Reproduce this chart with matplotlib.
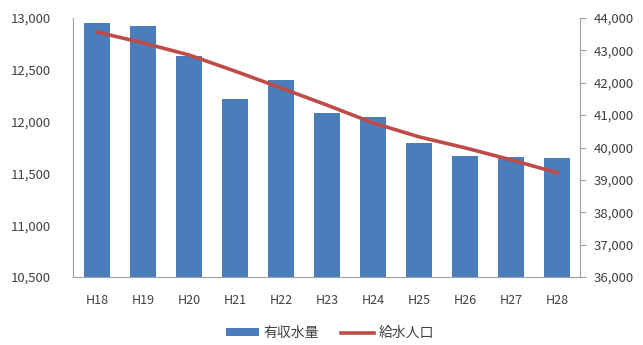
"""
有収水量 / 給水人口 combo chart (bars + line, twin y axes).
"""
import matplotlib
matplotlib.use("Agg")
import matplotlib.pyplot as plt
from matplotlib.ticker import FuncFormatter, MultipleLocator

plt.rcParams["font.family"] = ["Noto Sans CJK JP", "DejaVu Sans"]

YEARS = ["H18", "H19", "H20", "H21", "H22", "H23", "H24", "H25", "H26", "H27", "H28"]
REVENUE_WATER = [12950, 12920, 12630, 12220, 12400, 12085, 12045, 11795, 11665, 11660, 11645]
POPULATION = [43570, 43230, 42860, 42360, 41840, 41310, 40760, 40330, 39990, 39620, 39220]

BAR_COLOR = "#4a7ebb"
LINE_COLOR = "#be4b48"
TEXT_COLOR = "#404040"
AXIS_COLOR = "#a0a0a0"

fig = plt.figure(figsize=(6.43, 3.45), dpi=100)
ax = fig.add_axes([73 / 643, 1 - 277 / 345, (580 - 73) / 643, (277 - 18) / 345])
ax2 = ax.twinx()

x = range(len(YEARS))
bars = ax.bar(x, REVENUE_WATER, width=0.55, color=BAR_COLOR, label="有収水量", zorder=2)
line, = ax2.plot(x, POPULATION, color=LINE_COLOR, linewidth=2.6, label="給水人口", zorder=3)

ax.set_xlim(-0.52, 10.5)
ax.set_ylim(10500, 13000)
ax2.set_ylim(36000, 44000)
ax.yaxis.set_major_locator(MultipleLocator(500))
ax2.yaxis.set_major_locator(MultipleLocator(1000))
fmt = FuncFormatter(lambda v, _: f"{v:,.0f}")
ax.yaxis.set_major_formatter(fmt)
ax2.yaxis.set_major_formatter(fmt)
ax.set_xticks(list(x))
ax.set_xticklabels(YEARS)

for a in (ax, ax2):
    a.spines["top"].set_visible(False)
    a.tick_params(colors=TEXT_COLOR, labelsize=9.5)
ax.spines["right"].set_visible(False)
ax2.spines["left"].set_visible(False)
ax2.spines["bottom"].set_visible(False)
ax.spines["left"].set_color(AXIS_COLOR)
ax.spines["bottom"].set_color(AXIS_COLOR)
ax2.spines["right"].set_color(AXIS_COLOR)
ax.tick_params(axis="y", length=0, pad=16)
ax.tick_params(axis="x", length=0, pad=12, labelsize=9)
ax2.tick_params(axis="y", length=4, color=AXIS_COLOR, pad=6)

ax.set_zorder(ax2.get_zorder() - 1)
ax2.patch.set_visible(False)

fig.legend([bars, line], ["有収水量", "給水人口"], loc="center", bbox_to_anchor=(330 / 643, 1 - 333 / 345),
           ncol=2, frameon=False, fontsize=10, labelcolor=TEXT_COLOR, handlelength=2.4,
           handletextpad=0.3, columnspacing=1.6, handleheight=0.5)

fig.savefig("out.png", dpi=100)
